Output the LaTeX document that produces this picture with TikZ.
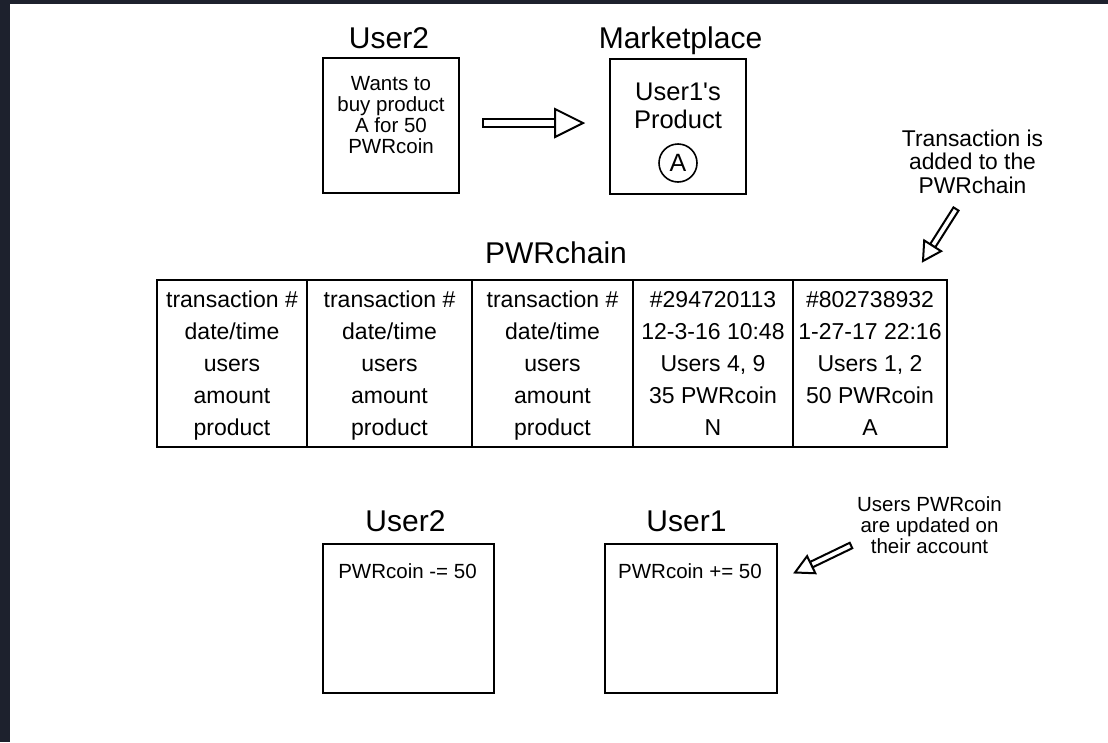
\documentclass[tikz,border=0pt]{standalone}
\usepackage{fontspec}
\setmainfont{Liberation Sans}
\usetikzlibrary{calc,positioning}
\definecolor{pagedark}{RGB}{29,33,45}

% outlined block arrow: from, to, head length, head half width, shaft half width
\newcommand{\hollowarrow}[5]{%
  \coordinate (hbase) at ($(#2)!#3!(#1)$);
  \draw[hollow] ($(#1)!#5!90:(#2)$) -- ($(hbase)!#5!90:(#2)$) -- ($(hbase)!#5!-90:(#2)$) -- ($(#1)!#5!-90:(#2)$) -- cycle;
  \draw[hollow] ($(hbase)!#4!90:(#2)$) -- (#2) -- ($(hbase)!#4!-90:(#2)$) -- cycle;
}

\begin{document}
\begin{tikzpicture}[x=1pt,y=-1pt,
title/.style ={anchor=base, inner sep=0pt,
  font=\fontsize{30}{30}\selectfont
},
frame/.style ={rectangle, draw, line width=2pt, inner sep=0pt
},
txcol/.style ={rectangle, draw, line width=2pt, inner sep=0pt, outer sep=0pt,
  minimum height=167pt, align=center, text depth=0pt,
  font=\fontsize{23}{32}\selectfont
},
note/.style ={anchor=north, align=center, inner sep=0pt
},
hollow/.style ={draw, line width=2pt, fill=white, line join=miter
}]
\useasboundingbox (0,0) rectangle (1108,742);
\fill[pagedark] (0,0) rectangle (1108,742);
\fill[white] (10,4) rectangle (1108,742);

% request and marketplace
\node (t-u2) at (389,48) [title] {User2};
\node (u2box) at (391,125.5) [frame, minimum width=136pt, minimum height=135pt] {};
\node (u2want) at (391,76.3) [note, font=\fontsize{20.5}{21}\selectfont] {Wants to\\buy product\\A for 50\\PWRcoin};

\node (t-mk) at (680.5,48) [title] {Marketplace};
\node (mkbox) at (678,126.5) [frame, minimum width=136pt, minimum height=135pt] {};
\node (mkprod) at (678,83) [note, font=\fontsize{25.5}{28}\selectfont] {User1\textquotesingle s\\Product};
\node (mkA) at (678,163) [circle, draw, line width=1.6pt, minimum size=38pt, inner sep=0pt,
  font=\fontsize{25}{25}\selectfont] {A};

\coordinate (buy-tail) at (483,123);
\coordinate (buy-tip) at (583,123);
\hollowarrow{buy-tail}{buy-tip}{28pt}{14pt}{4pt}

% chain
\node (t-chain) at (556,263.3) [title] {PWRchain};
\node (tx1) at (232,363.5) [txcol, minimum width=150pt] {transaction \#\\date/time\\users\\amount\\product};
\node (tx2) at (389.5,363.5) [txcol, minimum width=165pt] {transaction \#\\date/time\\users\\amount\\product};
\node (tx3) at (552.5,363.5) [txcol, minimum width=161pt] {transaction \#\\date/time\\users\\amount\\product};
\node (tx4) at (713,363.5) [txcol, minimum width=160pt] {\#294720113\\12-3-16 10:48\\Users 4, 9\\35 PWRcoin\\N};
\node (tx5) at (870,363.5) [txcol, minimum width=154pt] {\#802738932\\1-27-17 22:16\\Users 1, 2\\50 PWRcoin\\A};

\node (n-add) at (972.5,129.3) [note, font=\fontsize{22.8}{23.5}\selectfont] {Transaction is\\added to the\\PWRchain};
\coordinate (add-tail) at (956,209);
\coordinate (add-tip) at (923,261);
\hollowarrow{add-tail}{add-tip}{18pt}{10pt}{3pt}

% accounts
\node (t-b2) at (405.5,531.7) [title] {User2};
\node (b2box) at (408.5,618.5) [frame, minimum width=171pt, minimum height=149pt] {};
\node (b2coin) at (407.5,578.3) [anchor=base, inner sep=0pt, font=\fontsize{20.5}{21}\selectfont] {PWRcoin -= 50};

\node (t-b1) at (686.5,531.7) [title] {User1};
\node (b1box) at (691,618.5) [frame, minimum width=172pt, minimum height=149pt] {};
\node (b1coin) at (690,578.3) [anchor=base, inner sep=0pt, font=\fontsize{20.5}{21}\selectfont] {PWRcoin += 50};

\node (n-upd) at (929.5,496.7) [note, font=\fontsize{20.5}{20.7}\selectfont] {Users PWRcoin\\are updated on\\their account};
\coordinate (upd-tail) at (851,545.5);
\coordinate (upd-tip) at (795,572.5);
\hollowarrow{upd-tail}{upd-tip}{18pt}{9.5pt}{3pt}
\end{tikzpicture}
\end{document}
